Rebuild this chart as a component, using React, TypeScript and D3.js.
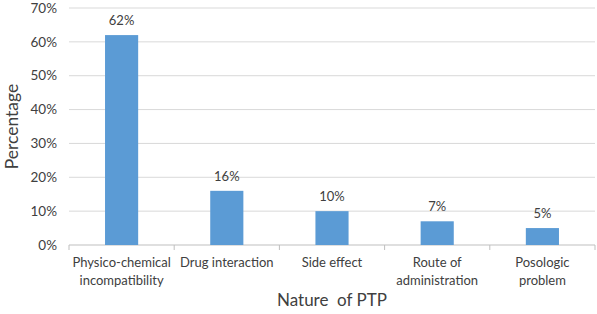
import React from "react";
import * as d3 from "d3";

const categories: string[][] = [
  ["Physico-chemical", "incompatibility"],
  ["Drug interaction"],
  ["Side effect"],
  ["Route of", "administration"],
  ["Posologic", "problem"],
];
const values: number[] = [62, 16, 10, 7, 5];
const yTicks: number[] = [0, 10, 20, 30, 40, 50, 60, 70];

const W = 597;
const H = 314;
const left = 69;
const right = 595;
const top = 8;
const bottom = 245;
const font = "Lato, 'Open Sans', sans-serif";
const textColor = "#404040";

export default function App() {
  const x = d3
    .scaleBand<number>()
    .domain(values.map((_, i) => i))
    .range([left, right])
    .paddingInner(0.685)
    .paddingOuter(0.685 / 2);
  const band = d3.scaleBand<number>().domain(values.map((_, i) => i)).range([left, right]);
  const y = d3.scaleLinear().domain([0, 70]).range([bottom, top]);

  return (
    <svg width={W} height={H} style={{ display: "block", position: "absolute", left: 0, top: 0 }}>
      <rect width={W} height={H} fill="#fff" />
      {yTicks.map((t) => (
        <g key={t}>
          {t > 0 && (
            <line x1={left} x2={right} y1={y(t)} y2={y(t)} stroke="#d9d9d9" strokeWidth={1} />
          )}
          <text
            x={57}
            y={y(t)}
            dy="0.35em"
            textAnchor="end"
            fontFamily={font}
            fontSize={13.5}
            fill={textColor}
          >
            {t}%
          </text>
        </g>
      ))}
      <line x1={left} x2={right} y1={bottom} y2={bottom} stroke="#bfbfbf" strokeWidth={1} />
      {d3.range(values.length + 1).map((i) => {
        const xx = left + i * band.step();
        return <line key={i} x1={xx} x2={xx} y1={bottom} y2={bottom + 5} stroke="#bfbfbf" />;
      })}
      {values.map((v, i) => (
        <g key={i}>
          <rect
            x={x(i)!}
            y={y(v)}
            width={x.bandwidth()}
            height={bottom - y(v)}
            fill="#5b9bd5"
          />
          <text
            x={x(i)! + x.bandwidth() / 2}
            y={y(v) - 10}
            textAnchor="middle"
            fontFamily={font}
            fontSize={13}
            fill={textColor}
          >
            {v}%
          </text>
          {categories[i].map((line, j) => (
            <text
              key={j}
              x={band(i)! + band.bandwidth() / 2}
              y={267 + j * 18}
              textAnchor="middle"
              fontFamily={font}
              fontSize={13}
              fill={textColor}
            >
              {line}
            </text>
          ))}
        </g>
      ))}
      <text
        transform={`translate(18,${(top + bottom) / 2}) rotate(-90)`}
        textAnchor="middle"
        fontFamily={font}
        fontSize={17.5}
        fill={textColor}
      >
        Percentage
      </text>
      <text
        x={(left + right) / 2}
        y={306}
        textAnchor="middle"
        fontFamily={font}
        fontSize={17}
        fill={textColor}
        style={{ whiteSpace: "pre" }}
      >
        {"Nature  of PTP"}
      </text>
    </svg>
  );
}
